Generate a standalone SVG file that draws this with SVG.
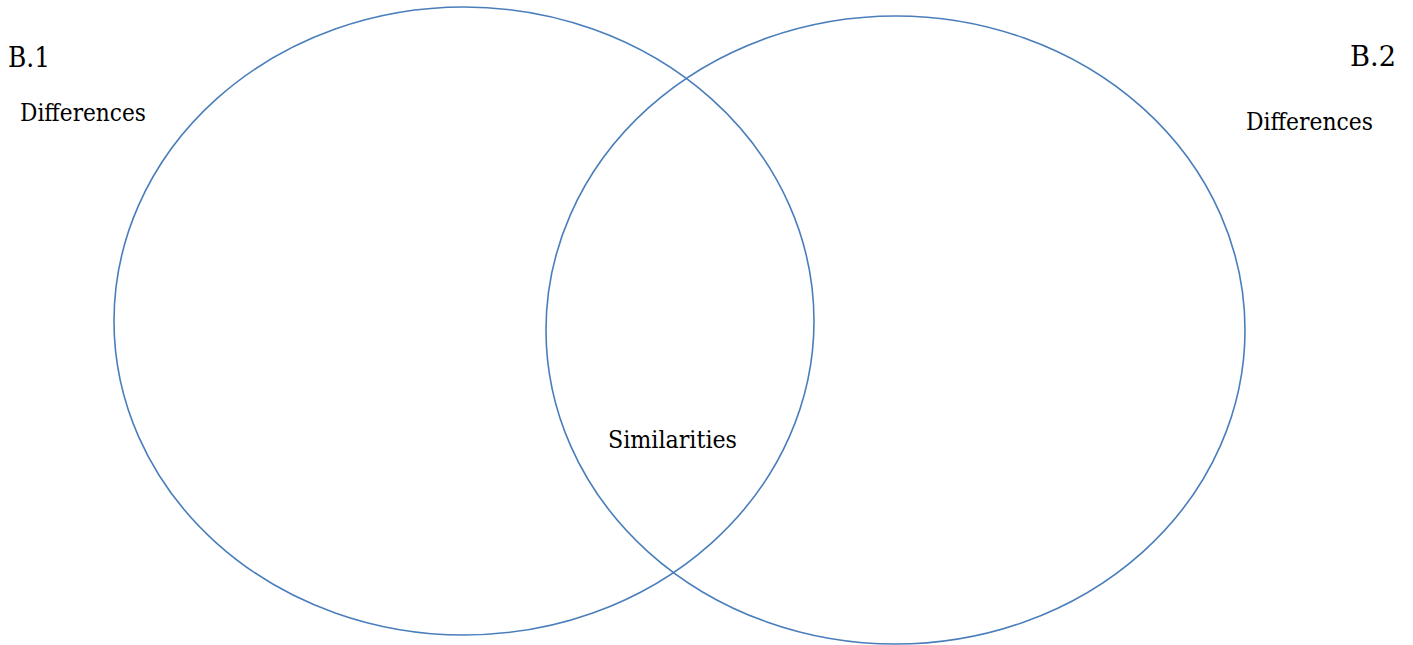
<svg xmlns="http://www.w3.org/2000/svg" width="1413" height="645" viewBox="0 0 1413 645">
<style>
.c{fill:none;stroke:#4a7ebb;stroke-width:1.6}
.t{font-family:"DejaVu Serif","Liberation Serif",serif;fill:#000}
.lg{font-size:28px}
.sm{font-size:24px}
</style>
<rect width="1413" height="645" fill="#fff"/>
<g id="set-b1"><ellipse class="c" cx="464" cy="321" rx="350" ry="314"/></g>
<g id="set-b2"><ellipse class="c" cx="895.5" cy="330" rx="349.5" ry="314"/></g>
<g id="labels">
<text class="t lg" x="8" y="67" textLength="42" lengthAdjust="spacingAndGlyphs">B.1</text>
<text class="t sm" x="20" y="120.5" textLength="126" lengthAdjust="spacingAndGlyphs">Differences</text>
<text class="t lg" x="1350" y="66" textLength="46" lengthAdjust="spacingAndGlyphs">B.2</text>
<text class="t sm" x="1246" y="130" textLength="127" lengthAdjust="spacingAndGlyphs">Differences</text>
<text class="t sm" x="608" y="448" textLength="129" lengthAdjust="spacingAndGlyphs">Similarities</text>
</g>
</svg>
